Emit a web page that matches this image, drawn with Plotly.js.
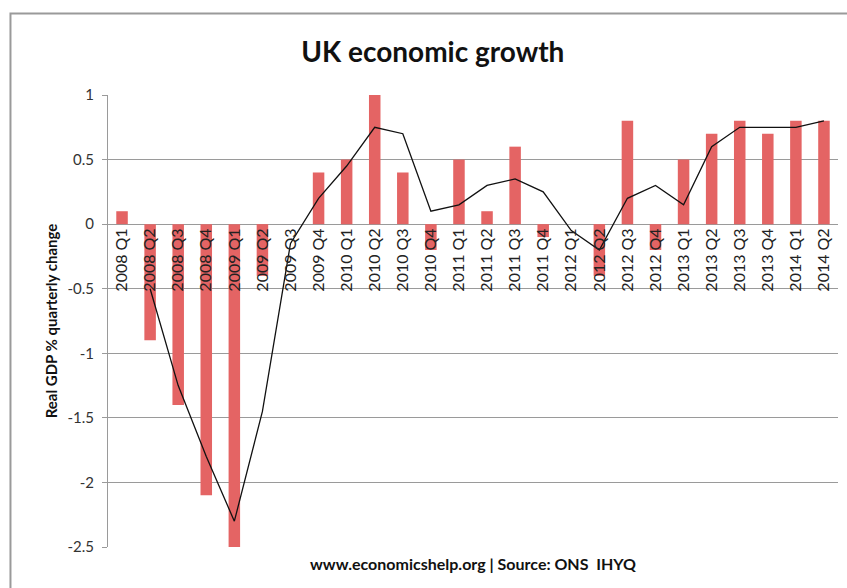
<!DOCTYPE html>
<html>
<head>
<meta charset="utf-8">
<script src="https://cdn.plot.ly/plotly-3.0.1.min.js"></script>
<style>html,body{margin:0;padding:0;background:#fff;}#chart{width:847px;height:588px;}</style>
</head>
<body>
<div id="chart"></div>
<script>
const quarters = ["2008 Q1","2008 Q2","2008 Q3","2008 Q4","2009 Q1","2009 Q2","2009 Q3","2009 Q4",
  "2010 Q1","2010 Q2","2010 Q3","2010 Q4","2011 Q1","2011 Q2","2011 Q3","2011 Q4",
  "2012 Q1","2012 Q2","2012 Q3","2012 Q4","2013 Q1","2013 Q2","2013 Q3","2013 Q4","2014 Q1","2014 Q2"];
const quarterlyGrowth = [0.1,-0.9,-1.4,-2.1,-2.5,-0.4,0,0.4,
  0.5,1.0,0.4,-0.2,0.5,0.1,0.6,-0.1,
  0,-0.4,0.8,-0.2,0.5,0.7,0.8,0.7,0.8,0.8];
const trendLine = [null,-0.5,-1.25,-1.8,-2.3,-1.45,-0.15,0.2,
  0.45,0.75,0.7,0.1,0.15,0.3,0.35,0.25,
  -0.05,-0.2,0.2,0.3,0.15,0.6,0.75,0.75,0.75,0.8];
const yTickVals = [1,0.5,0,-0.5,-1,-1.5,-2,-2.5];
const yTickText = ["1","0.5","0","-0.5","-1","-1.5","-2","-2.5"];

const F = "Lato, 'Open Sans', sans-serif";
const traces = [
  {type:"bar", x:quarters, y:quarterlyGrowth, marker:{color:"#e46464", line:{width:0}}, hoverinfo:"x+y"},
  {type:"scatter", mode:"lines", x:quarters, y:trendLine, line:{color:"#111", width:1.3}, connectgaps:false}
];
const layout = {
  width:847, height:588,
  margin:{l:108, r:9, t:95, b:41},
  paper_bgcolor:"#fff", plot_bgcolor:"#fff",
  showlegend:false,
  bargap:0.59,
  title:{text:"UK economic growth", font:{family:F, size:28, color:"#111", weight:700},
    x:0.511, xref:"container", xanchor:"center", y:1-52/588, yref:"container", yanchor:"middle"},
  xaxis:{type:"category", anchor:"free", position:2.5/3.5, side:"bottom",
    showline:false, showgrid:false, zeroline:false, ticks:"", tickangle:-90,
    tickfont:{family:F, size:16, color:"#222"}, range:[-0.5,25.5]},
  yaxis:{range:[-2.5,1], tickvals:yTickVals, ticktext:yTickText,
    showgrid:true, gridcolor:"#9a9a9a", gridwidth:1, zeroline:false,
    showline:true, linecolor:"#9a9a9a", linewidth:1,
    ticks:"outside", ticklen:5, tickcolor:"#9a9a9a", ticklabelstandoff:5,
    tickfont:{family:F, size:15, color:"#333"},
    title:{text:"Real GDP % quarterly change", font:{family:F, size:15, color:"#111", weight:700}, standoff:6}},
  annotations:[{text:"www.economicshelp.org | Source: ONS\u00a0 IHYQ", xref:"paper", yref:"paper",
    x:0.5, y:(547-563)/452, xanchor:"center", yanchor:"middle", showarrow:false,
    font:{family:F, size:16, color:"#111", weight:700}}],
  shapes:[{type:"path", xref:"paper", yref:"paper",
    path:"M -0.1336,-0.2 L -0.1336,1.1803 L 1.2,1.1803", line:{color:"#9a9a9a", width:2}}]
};
Plotly.newPlot("chart", traces, layout, {displayModeBar:false, staticPlot:true});
</script>
</body>
</html>
